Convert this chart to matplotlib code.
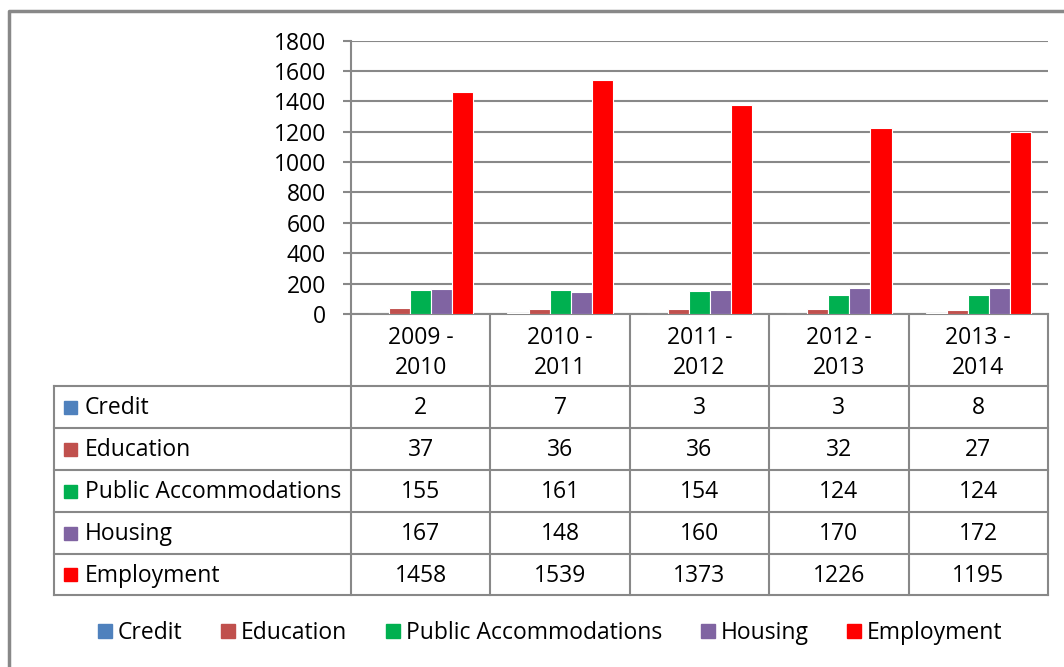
import matplotlib
matplotlib.use("Agg")
import matplotlib.pyplot as plt
from matplotlib.lines import Line2D
from matplotlib.patches import Rectangle
import numpy as np

plt.rcParams["font.family"] = ["Open Sans", "DejaVu Sans"]

# Data
periods = ["2009 -\n2010", "2010 -\n2011", "2011 -\n2012", "2012 -\n2013", "2013 -\n2014"]
series_names = ["Credit", "Education", "Public Accommodations", "Housing", "Employment"]
credit = [2, 7, 3, 3, 8]
education = [37, 36, 36, 32, 27]
public_accommodations = [155, 161, 154, 124, 124]
housing = [167, 148, 160, 170, 172]
employment = [1458, 1539, 1373, 1226, 1195]
colors = ["#4F81BD", "#C0504D", "#00B050", "#8064A2", "#FF0000"]
series_values = [credit, education, public_accommodations, housing, employment]

W, H = 1064, 667
GRID = "#888888"
FS = 16.5

fig = plt.figure(figsize=(W / 100, H / 100), dpi=100)

# Plot area in pixels
left, right, top, bottom = 351, 1048, 40.5, 314
ax = fig.add_axes([left / W, 1 - bottom / H, (right - left) / W, (bottom - top) / H])

x = np.arange(len(periods))
width = 0.151
for i, (name, vals, c) in enumerate(zip(series_names, series_values, colors)):
    ax.bar(x + (i - 2) * width, vals, width, color=c, edgecolor="white",
           linewidth=0.8, zorder=3, label=name)

ax.set_xlim(-0.5, len(periods) - 0.5)
ax.set_ylim(0, 1800)
ax.set_yticks(np.arange(0, 1801, 200))
ax.set_xticks([])
ax.yaxis.grid(True, color=GRID, linewidth=1.5, zorder=0)
ax.set_axisbelow(True)
for s in ["top", "right"]:
    ax.spines[s].set_visible(False)
for s in ["left", "bottom"]:
    ax.spines[s].set_color(GRID)
    ax.spines[s].set_linewidth(1.5)
ax.tick_params(axis="y", length=6, width=1.5, color=GRID, pad=12, labelsize=FS)

# Overlay for the data table and outer frame (pixel coordinates)
ov = fig.add_axes([0, 0, 1, 1], zorder=-1)
ov.set_xlim(0, W)
ov.set_ylim(H, 0)
ov.axis("off")

lw = 1.5
# outer frame
ov.plot([8.5, 8.5, W], [H, 10.5, 10.5], color=GRID, linewidth=2.5)

tab_left = 54
col_w = (right - left) / len(periods)
row_edges = [386, 428, 470, 512, 554, 595]

# header columns
for j in range(len(periods) + 1):
    xc = left + j * col_w
    ov.plot([xc, xc], [bottom, row_edges[-1]], color=GRID, linewidth=lw)
for y in row_edges:
    ov.plot([tab_left, right], [y, y], color=GRID, linewidth=lw)
ov.plot([tab_left, tab_left], [row_edges[0], row_edges[-1]], color=GRID, linewidth=lw)

for j, p in enumerate(periods):
    ov.text(left + (j + 0.5) * col_w, 353, p, ha="center", va="center",
            fontsize=FS, linespacing=1.35)

for i, (name, vals, c) in enumerate(zip(series_names, series_values, colors)):
    yc = (row_edges[i] + row_edges[i + 1]) / 2
    ov.add_patch(Rectangle((64, yc - 6.5), 13, 13, color=c))
    ov.text(85, yc + 1, name, ha="left", va="center", fontsize=FS)
    for j, v in enumerate(vals):
        ov.text(left + (j + 0.5) * col_w, yc + 1, str(v), ha="center", va="center",
                fontsize=FS)

# Legend
handles = [Line2D([], [], marker="s", linestyle="none", markersize=9.5,
                  markerfacecolor=c, markeredgecolor=c) for c in colors]
fig.legend(handles, series_names, loc="center", ncol=5,
           bbox_to_anchor=(548 / W, 1 - 633 / H), frameon=False,
           fontsize=FS, handletextpad=0.05, columnspacing=1.5, handlelength=1.0)

fig.savefig("out.png", dpi=100)
